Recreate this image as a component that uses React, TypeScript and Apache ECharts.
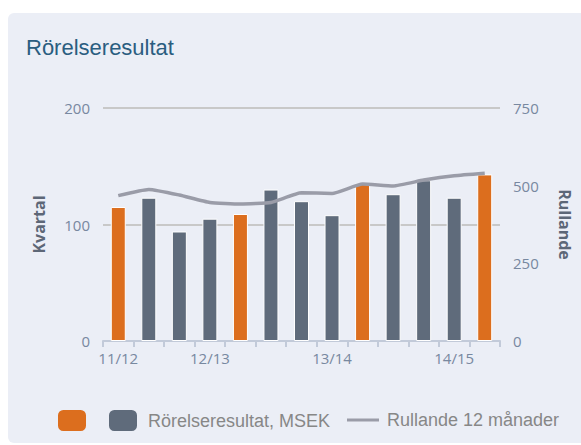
import React, { useEffect, useRef } from "react";
import * as echarts from "echarts";

const categories = ["1", "2", "3", "4", "5", "6", "7", "8", "9", "10", "11", "12", "13"];
const tickLabels = ["11/12", "", "", "12/13", "", "", "", "13/14", "", "", "", "14/15", ""];
const highlightValues = [115, null, null, null, 109, null, null, null, 135, null, null, null, 143];
const quarterValues = [null, 123, 94, 105, null, 130, 120, 108, null, 126, 138, 123, null];
const rollingValues = [468, 488, 470, 446, 441, 446, 477, 475, 505, 499, 518, 532, 540];
const leftTicks = { min: 0, max: 200, interval: 100 };
const rightTicks = { min: 0, max: 750, interval: 250 };

const ORANGE = "#dc6e1e";
const GRAY = "#5f6b7b";
const LINE = "#9a9ca8";
const LABEL = "#7888a0";
const AXIS_FONT = "'Open Sans', sans-serif";
const SANS = "'Liberation Sans', Arial, sans-serif";

export default function App() {
  const ref = useRef<HTMLDivElement>(null);
  useEffect(() => {
    if (!ref.current) return;
    const chart = echarts.init(ref.current, null, { renderer: "svg" });
    const legendText = { fontFamily: SANS, fontSize: 18, color: "#878787" };
    chart.setOption({
      animation: false,
      graphic: [
        {
          type: "rect",
          z: -10,
          silent: true,
          shape: { x: 8, y: 13, width: 600, height: 430, r: 6 },
          style: { fill: "#ebeef6" },
        },
      ],
      title: {
        text: "Rörelseresultat",
        left: 26,
        top: 36,
        padding: 0,
        textStyle: { fontFamily: SANS, fontSize: 22, fontWeight: "normal", color: "#2a5d80" },
      },
      grid: { left: 103, right: 75, top: 108, bottom: 104, containLabel: false },
      xAxis: {
        type: "category",
        data: categories,
        boundaryGap: true,
        axisLine: { lineStyle: { color: "#c2cad9", width: 2 } },
        axisTick: { show: true, length: 6, lineStyle: { color: "#c2cad9", width: 2 } },
        axisLabel: {
          interval: 0,
          margin: 9,
          color: LABEL,
          fontFamily: AXIS_FONT,
          fontSize: 15,
          formatter: (_v: string, i: number) => tickLabels[i],
        },
      },
      yAxis: [
        {
          type: "value",
          ...leftTicks,
          name: "Kvartal",
          nameLocation: "middle",
          nameGap: 56,
          nameRotate: 90,
          nameTextStyle: { fontFamily: AXIS_FONT, fontSize: 16, fontWeight: "bold", color: "#5d6777" },
          axisLine: { show: false },
          axisTick: { show: false },
          axisLabel: { margin: 13, color: LABEL, fontFamily: AXIS_FONT, fontSize: 15 },
          splitLine: { show: true, lineStyle: { color: "#c8c8c8", width: 2 } },
        },
        {
          type: "value",
          ...rightTicks,
          name: "Rullande",
          nameLocation: "middle",
          nameGap: 57,
          nameRotate: -90,
          nameTextStyle: { fontFamily: AXIS_FONT, fontSize: 16, fontWeight: "bold", color: "#5d6777" },
          axisLine: { show: false },
          axisTick: { show: false },
          axisLabel: { margin: 13, color: LABEL, fontFamily: AXIS_FONT, fontSize: 15 },
          splitLine: { show: false },
        },
      ],
      legend: [
        {
          left: 58,
          top: 410,
          padding: 0,
          itemWidth: 28,
          itemHeight: 21,
          icon: "roundRect",
          data: ["Helår"],
          formatter: () => "",
          selectedMode: false,
          itemStyle: { borderWidth: 0 },
          textStyle: legendText,
        },
        {
          left: 109,
          top: 410,
          padding: 0,
          itemWidth: 28,
          itemHeight: 21,
          icon: "roundRect",
          data: ["Rörelseresultat, MSEK"],
          selectedMode: false,
          itemStyle: { borderWidth: 0 },
          textStyle: { ...legendText, padding: [0, 0, 0, 6] },
        },
        {
          left: 347,
          top: 411,
          padding: 0,
          itemWidth: 32,
          itemHeight: 3,
          icon: "rect",
          data: ["Rullande 12 månader"],
          selectedMode: false,
          itemStyle: { borderWidth: 0, color: LINE },
          textStyle: { ...legendText, padding: [0, 0, 0, 3] },
        },
      ],
      series: [
        {
          name: "Helår",
          type: "bar",
          stack: "q",
          yAxisIndex: 0,
          barWidth: 15,
          data: highlightValues,
          itemStyle: { color: ORANGE, borderColor: "#ffffff", borderWidth: 1 },
        },
        {
          name: "Rörelseresultat, MSEK",
          type: "bar",
          stack: "q",
          yAxisIndex: 0,
          barWidth: 15,
          data: quarterValues,
          itemStyle: { color: GRAY, borderColor: "#ffffff", borderWidth: 1 },
        },
        {
          name: "Rullande 12 månader",
          type: "line",
          yAxisIndex: 1,
          data: rollingValues,
          smooth: 0.15,
          symbol: "none",
          z: 5,
          lineStyle: { color: LINE, width: 3.5 },
          itemStyle: { color: LINE },
        },
      ],
    });
    return () => chart.dispose();
  }, []);
  return (
    <div
      ref={ref}
      style={{ position: "fixed", left: 0, top: 0, width: 581, height: 445, background: "#ffffff" }}
    />
  );
}
